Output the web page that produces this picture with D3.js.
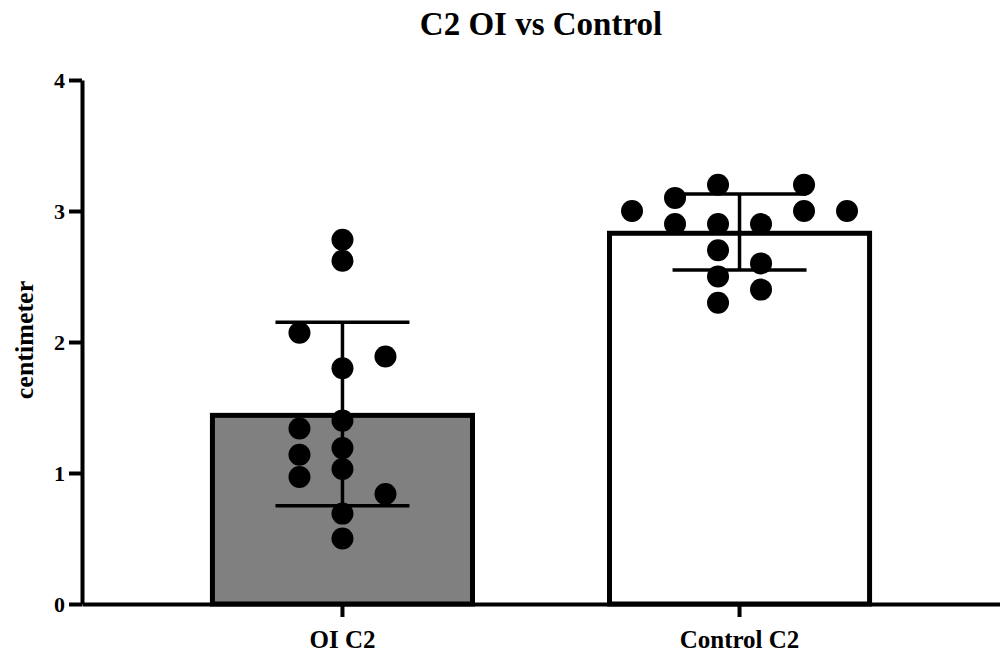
<!DOCTYPE html>
<head>
  <meta charset="utf-8">
  <script src="https://d3js.org/d3.v7.min.js"></script>
  <style>
    body { margin: 0; background: #fff; }
    text { font-family: "Liberation Serif", "DejaVu Serif", serif; font-weight: bold; }
  </style>
</head>

<body>
  <div id="chart"></div>
</body>

<script>

// data
var groups = ["OI C2", "Control C2"];
var means = [1.44, 2.83];
var sdLow = [0.75, 2.55];
var sdHigh = [2.15, 3.13];
var fills = ["#808080", "#ffffff"];

var oiValues = [2.78, 2.62, 2.07, 1.89, 1.80, 1.40, 1.34, 1.19, 1.14, 1.03, 0.97, 0.84, 0.69, 0.50];
var oiLanes  = [0, 0, -1, 1, 0, 0, -1, 0, -1, 0, -1, 1, 0, 0];

var ctrlValues = [3.0, 3.1, 3.2, 3.2, 3.0, 3.0, 2.9, 2.9, 2.9, 2.7, 2.6, 2.5, 2.4, 2.3];
var ctrlLanes  = [-2.5, -1.5, -0.5, 1.5, 1.5, 2.5, -1.5, -0.5, 0.5, -0.5, 0.5, -0.5, 0.5, -0.5];

var yTicks = [0, 1, 2, 3, 4];

var margin = {top: 80, right: 0, bottom: 51, left: 82},
    width = 1000 - margin.left - margin.right,
    height = 655 - margin.top - margin.bottom;

var svg = d3.select("#chart")
  .append("svg")
    .attr("width", 1000)
    .attr("height", 655)
  .append("g")
    .attr("transform", "translate(" + margin.left + "," + margin.top + ")");

var x = d3.scaleBand()
  .domain(groups)
  .range([0, width])
  .paddingInner(0.345)
  .paddingOuter(0.3285);

var y = d3.scaleLinear()
  .domain([0, 4])
  .range([height, 0]);

// lane index -> horizontal offset of a dot
var lane = d3.scaleLinear().domain([0, 1]).range([0, 43]);

// bars
svg.selectAll("rect.bar")
  .data(groups)
  .enter()
  .append("rect")
    .attr("class", "bar")
    .attr("x", function(d) { return x(d); })
    .attr("y", function(d, i) { return y(means[i]); })
    .attr("width", x.bandwidth())
    .attr("height", function(d, i) { return y(0) - y(means[i]); })
    .style("fill", function(d, i) { return fills[i]; })
    .style("stroke", "#000")
    .style("stroke-width", 5);

// error bars
var eb = svg.selectAll("g.err")
  .data(groups)
  .enter()
  .append("g")
    .attr("class", "err")
    .style("stroke", "#000")
    .style("stroke-width", 3.5);

eb.append("line")
  .attr("x1", function(d) { return x(d) + x.bandwidth() / 2; })
  .attr("x2", function(d) { return x(d) + x.bandwidth() / 2; })
  .attr("y1", function(d, i) { return y(sdLow[i]); })
  .attr("y2", function(d, i) { return y(sdHigh[i]); });

[sdLow, sdHigh].forEach(function(arr) {
  eb.append("line")
    .attr("x1", function(d) { return x(d) + x.bandwidth() / 2 - 67; })
    .attr("x2", function(d) { return x(d) + x.bandwidth() / 2 + 67; })
    .attr("y1", function(d, i) { return y(arr[i]); })
    .attr("y2", function(d, i) { return y(arr[i]); });
});

// dots
function dots(group, values, lanes) {
  var cx = x(group) + x.bandwidth() / 2;
  svg.append("g")
    .selectAll("circle")
    .data(values)
    .enter()
    .append("circle")
      .attr("cx", function(d, i) { return cx + lane(lanes[i]); })
      .attr("cy", function(d) { return y(d); })
      .attr("r", 11)
      .style("fill", "#000");
}
dots(groups[0], oiValues, oiLanes);
dots(groups[1], ctrlValues, ctrlLanes);

// axes
var yAxis = svg.append("g")
  .call(d3.axisLeft(y).tickValues(yTicks).tickFormat(d3.format("d")).tickSize(13).tickSizeOuter(0).tickPadding(4));

var xAxis = svg.append("g")
  .attr("transform", "translate(0," + height + ")")
  .call(d3.axisBottom(x).tickSize(13).tickSizeOuter(0).tickPadding(13));

[yAxis, xAxis].forEach(function(a) {
  a.select(".domain").style("stroke-width", 4);
  a.selectAll(".tick line").style("stroke-width", 4);
  a.selectAll("text").style("fill", "#000")
    .style("font-family", "'Liberation Serif', serif").style("font-weight", "bold");
});
yAxis.selectAll("text").style("font-size", "22px");
xAxis.selectAll("text").style("font-size", "25px");

// title
svg.append("text")
  .attr("x", width / 2)
  .attr("y", -45)
  .attr("text-anchor", "middle")
  .style("font-size", "33px")
  .text("C2 OI vs Control");

// y label
svg.append("text")
  .attr("transform", "translate(" + (-49) + "," + 260 + ") rotate(-90)")
  .attr("text-anchor", "middle")
  .style("font-size", "26px")
  .text("centimeter");

</script>
